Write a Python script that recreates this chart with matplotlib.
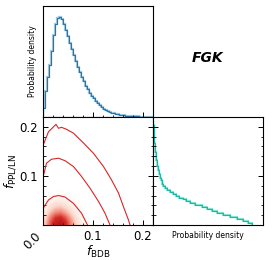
import numpy as np
import matplotlib
matplotlib.use("Agg")
import matplotlib.pyplot as plt
from matplotlib.ticker import MultipleLocator
from matplotlib.colors import LinearSegmentedColormap

# ---------- data ----------
# histogram bins (width 0.004) shared by both marginals
bin_edges = np.linspace(0.0, 0.22, 56)

# marginal of f_BDB (relative density)
dens_bdb = [9, 26, 40, 52, 66, 82, 93, 99, 100, 98,
            93, 87, 81, 74, 68, 62, 56, 50, 45, 40,
            36, 31, 28, 24, 21.5, 19, 16, 14, 12, 10,
            8.5, 7.3, 6.2, 5.3, 4.4, 3.7, 3.1, 2.6, 2.2, 1.9,
            1.6, 1.4, 1.2, 1.05, 0.9, 0.8, 0.65, 0.55, 0.45, 0.4,
            0.3, 0.25, 0.2, 0.15, 0.1]

# marginal of f_PPL/LN (relative density)
dens_ppl = [99, 95, 90, 84, 77, 70, 64, 59, 54, 49,
            42, 37, 33, 29.5, 26, 22.5, 19.5, 16.5, 14, 12,
            10.3, 9.3, 8.5, 7.8, 7.2, 6.7, 6.2, 5.7, 5.3, 4.9,
            4.4, 4.0, 3.7, 3.4, 3.1, 2.8, 2.5, 2.3, 2.1, 1.9,
            1.7, 1.5, 1.35, 1.2, 1.05, 0.95, 0.85, 0.75, 0.65, 0.57,
            0.5, 0.43, 0.37, 0.32, 0.27]

# contour lines of the joint distribution (f_BDB, f_PPL/LN)
outer_x = [0.0, 0.002, 0.011, 0.021, 0.026, 0.031, 0.037, 0.047, 0.061, 0.081,
           0.101, 0.121, 0.137, 0.151, 0.161, 0.171, 0.174]
outer_y = [0.163, 0.167, 0.190, 0.200, 0.205, 0.197, 0.199, 0.195, 0.187, 0.167,
           0.146, 0.119, 0.092, 0.065, 0.037, 0.010, 0.0]
middle_x = [0.0, 0.002, 0.007, 0.017, 0.031, 0.044, 0.061, 0.077, 0.094, 0.111,
            0.124, 0.134]
middle_y = [0.100, 0.105, 0.126, 0.134, 0.136, 0.131, 0.119, 0.099, 0.075, 0.048,
            0.024, 0.0]
inner_x = [0.0, 0.002, 0.011, 0.021, 0.031, 0.044, 0.061, 0.077, 0.089]
inner_y = [0.032, 0.037, 0.051, 0.058, 0.060, 0.057, 0.044, 0.024, 0.0]

# shaded density near the origin (rows: f_PPL/LN 0.005..0.075, cols: f_BDB 0.005..0.105)
dens_2d = np.array([
    [0.30, 0.62, 0.88, 0.95, 0.78, 0.50, 0.27, 0.12, 0.04, 0.0, 0.0],
    [0.22, 0.50, 0.72, 0.78, 0.62, 0.40, 0.20, 0.08, 0.02, 0.0, 0.0],
    [0.14, 0.33, 0.47, 0.51, 0.40, 0.25, 0.12, 0.05, 0.01, 0.0, 0.0],
    [0.08, 0.19, 0.29, 0.31, 0.24, 0.15, 0.07, 0.02, 0.0, 0.0, 0.0],
    [0.04, 0.10, 0.15, 0.16, 0.12, 0.07, 0.03, 0.01, 0.0, 0.0, 0.0],
    [0.01, 0.04, 0.06, 0.06, 0.05, 0.03, 0.01, 0.0, 0.0, 0.0, 0.0],
    [0.0, 0.01, 0.01, 0.02, 0.01, 0.0, 0.0, 0.0, 0.0, 0.0, 0.0],
    [0.0, 0.0, 0.0, 0.0, 0.0, 0.0, 0.0, 0.0, 0.0, 0.0, 0.0],
])

lim = 0.22

# ---------- figure ----------
W, H = 274, 260
fig = plt.figure(figsize=(W / 100, H / 100), dpi=100)


def box(left, top, right, bottom):
    return [left / W, (H - bottom) / H, (right - left) / W, (bottom - top) / H]


ax_top = fig.add_axes(box(43, 6, 153, 117))
ax_joint = fig.add_axes(box(43, 117, 153, 225))
ax_right = fig.add_axes(box(153, 117, 263, 225))

tick_kw = dict(direction="in", length=3.6, width=0.7)
minor_kw = dict(direction="in", length=1.8, width=0.6)

# top marginal
ax_top.stairs(dens_bdb, bin_edges, color="#9ecae1", lw=1.6)
ax_top.stairs(dens_bdb, bin_edges, color="#1f77b4", lw=0.8)
ax_top.set_xlim(0, lim)
ax_top.set_ylim(0, 111)
ax_top.set_yticks([])
ax_top.xaxis.set_major_locator(MultipleLocator(0.1))
ax_top.xaxis.set_minor_locator(MultipleLocator(0.02))
ax_top.tick_params(axis="x", which="major", labelbottom=False, **tick_kw)
ax_top.tick_params(axis="x", which="minor", **minor_kw)
ax_top.set_ylabel("Probability density", fontsize=5.5)

# joint
reds = LinearSegmentedColormap.from_list(
    "reds_w", ["#ffffff", "#fcd5c8", "#f08070", "#d42a24", "#b51218"])
ax_joint.imshow(dens_2d, extent=(0, 0.11, 0, 0.08), origin="lower", cmap=reds,
                vmin=0, vmax=1.0, interpolation="bilinear", aspect="auto")
for cx, cy in [(outer_x, outer_y), (middle_x, middle_y), (inner_x, inner_y)]:
    ax_joint.plot(cx, cy, color="#d62728", lw=0.8)
ax_joint.set_xlim(0, lim)
ax_joint.set_ylim(0, lim)
for axis in (ax_joint.xaxis, ax_joint.yaxis):
    axis.set_major_locator(MultipleLocator(0.1))
    axis.set_minor_locator(MultipleLocator(0.02))
ax_joint.tick_params(which="major", labelsize=8.5, right=True, **tick_kw)
ax_joint.tick_params(which="minor", right=True, **minor_kw)
ax_joint.set_xticks([0.0, 0.1, 0.2])
ax_joint.set_xticklabels(["0.0", "0.1", "0.2"])
ax_joint.set_yticks([0.0, 0.1, 0.2])
ax_joint.set_yticklabels(["", "0.1", "0.2"])
lab0 = ax_joint.get_xticklabels()[0]
lab0.set_rotation(45)
lab0.set_ha("right")
ax_joint.set_xlabel(r"$f_{\rm BDB}$", fontsize=9)
ax_joint.xaxis.set_label_coords(0.5, -0.175)
ax_joint.set_ylabel(r"$f_{\rm PPL/LN}$", fontsize=9, labelpad=1)

# right marginal
ax_right.stairs(dens_ppl, bin_edges, orientation="horizontal", baseline=None,
                color="#8ae8d8", lw=1.6)
ax_right.stairs(dens_ppl, bin_edges, orientation="horizontal", baseline=None,
                color="#1fb5a3", lw=0.8)
ax_right.set_ylim(0, lim)
ax_right.set_xlim(0, 110)
ax_right.set_xticks([])
ax_right.yaxis.set_major_locator(MultipleLocator(0.1))
ax_right.yaxis.set_minor_locator(MultipleLocator(0.02))
ax_right.tick_params(axis="y", which="major", labelleft=False, right=True, **tick_kw)
ax_right.tick_params(axis="y", which="minor", right=True, **minor_kw)
ax_right.set_xlabel("Probability density", fontsize=5.5)

fig.text(208 / W, 1 - 58 / H, "FGK", fontsize=10, fontweight="bold", fontstyle="italic",
         ha="center", va="center")

fig.savefig("out.png", dpi=100)
